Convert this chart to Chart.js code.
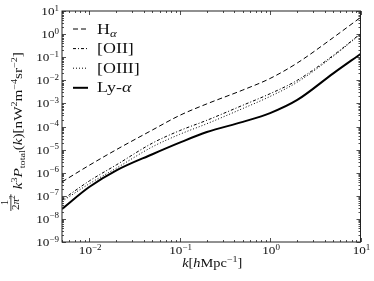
<!DOCTYPE html>
<html lang="en">
<head>
<meta charset="UTF-8">
<title>Line intensity power spectra</title>
<script src="https://cdn.jsdelivr.net/npm/chart.js"></script>
<style>
    * { margin: 0; padding: 0; box-sizing: border-box; }
    body { background: #ffffff; }
    .chart-container { width: 374px; height: 281px; position: relative; }
</style>
</head>
<body>
<div class="chart-container"><canvas id="spectraChart"></canvas></div>
<script>
// wavenumber k [h/Mpc]
const kValues = [0.005, 0.01, 0.02, 0.05, 0.1, 0.2, 0.5, 1, 2, 5, 10];

// k^3 P_total(k) / 2pi^2  [nW^2 m^-4 sr^-2]
const hAlpha  = [4.0e-7, 2.09e-6, 1.0e-5, 7.08e-5, 3.02e-4, 9.55e-4, 3.80e-3, 1.20e-2, 5.62e-2, 0.708, 5.25];
const oII     = [6.61e-8, 4.37e-7, 2.19e-6, 1.91e-5, 6.61e-5, 1.86e-4, 8.32e-4, 2.63e-3, 1.0e-2, 0.120, 1.05];
const oIII    = [5.75e-8, 3.31e-7, 1.58e-6, 1.32e-5, 4.57e-5, 1.32e-4, 6.03e-4, 2.0e-3, 8.32e-3, 0.110, 1.0];
const lyAlpha = [2.69e-8, 2.40e-7, 1.26e-6, 6.31e-6, 2.0e-5, 5.75e-5, 1.58e-4, 3.80e-4, 1.41e-3, 2.0e-2, 0.138];

const seriesLabels = ['Hα', '[OII]', '[OIII]', 'Ly-α'];

// tick labels are 10^n
const xTickExponents = [-2, -1, 0, 1];
const yTickExponents = [1, 0, -1, -2, -3, -4, -5, -6, -7, -8, -9];

const SERIF = '"Liberation Serif", "DejaVu Serif", serif';

function fontOf(r) {
    return (r.italic ? 'italic ' : '') + r.size + 'px ' + SERIF;
}

function runsWidth(ctx, runs) {
    let w = 0;
    runs.forEach(r => { ctx.font = fontOf(r); w += ctx.measureText(r.t).width; });
    return w;
}

// draws a row of text pieces (for super/subscripts), stretched by sx
function drawRuns(ctx, runs, x, y, align, sx) {
    const w = runsWidth(ctx, runs) * sx;
    let x0 = x;
    if (align === 'right') x0 = x - w;
    if (align === 'center') x0 = x - w / 2;
    ctx.save();
    ctx.translate(x0, y);
    ctx.scale(sx, 1);
    ctx.textAlign = 'left';
    ctx.textBaseline = 'alphabetic';
    let cx = 0;
    runs.forEach(r => {
        ctx.font = fontOf(r);
        ctx.fillText(r.t, cx, r.dy || 0);
        cx += ctx.measureText(r.t).width;
    });
    ctx.restore();
    return w;
}

function powerRuns(e) {
    return [
        { t: '10', size: 11 },
        { t: e < 0 ? '\u2212' + (-e) : String(e), size: 7.5, dy: -4.5 }
    ];
}

function legendRuns(label) {
    const runs = [];
    let prev = '';
    for (const ch of label) {
        if (ch === 'α') {
            const sub = prev === 'H';
            runs.push({ t: 'α', size: sub ? 10 : 14, italic: true, dy: sub ? 3 : 0 });
        } else if (runs.length && !runs[runs.length - 1].italic) {
            runs[runs.length - 1].t += ch;
        } else {
            runs.push({ t: ch, size: 14 });
        }
        prev = ch;
    }
    return runs;
}

const xTitleRuns = [
    { t: 'k', size: 11.5, italic: true },
    { t: '[', size: 11.5 },
    { t: 'h', size: 11.5, italic: true },
    { t: 'Mpc', size: 11.5 },
    { t: '\u22121', size: 8, dy: -5 },
    { t: ']', size: 11.5 }
];

const yTitleRuns = [
    { t: 'k', size: 12, italic: true },
    { t: '3', size: 8, dy: -5 },
    { t: 'P', size: 12, italic: true },
    { t: 'total', size: 8, dy: 2.5 },
    { t: '(', size: 12 },
    { t: 'k', size: 12, italic: true },
    { t: ')[nW', size: 12 },
    { t: '2', size: 8, dy: -5 },
    { t: 'm', size: 12 },
    { t: '\u22124', size: 8, dy: -5 },
    { t: 'sr', size: 12 },
    { t: '\u22122', size: 8, dy: -5 },
    { t: ']', size: 12 }
];

const styles = [
    { borderDash: [5, 3], borderWidth: 1 },
    { borderDash: [3, 2, 1, 2], borderWidth: 1 },
    { borderDash: [1, 2], borderWidth: 1 },
    { borderDash: [], borderWidth: 2 }
];

const seriesData = [hAlpha, oII, oIII, lyAlpha];

const datasets = seriesData.map((vals, i) => ({
    label: seriesLabels[i],
    data: kValues.map((k, j) => ({ x: k, y: vals[j] })),
    borderColor: '#000000',
    borderWidth: styles[i].borderWidth,
    borderDash: styles[i].borderDash,
    pointRadius: 0,
    fill: false,
    cubicInterpolationMode: 'monotone'
}));

const decorPlugin = {
    id: 'decor',
    afterDraw(chart) {
        const ctx = chart.ctx;
        const { left, right, top, bottom } = chart.chartArea;
        const xs = chart.scales.x;
        const ys = chart.scales.y;
        ctx.save();

        // frame
        ctx.strokeStyle = '#222222';
        ctx.lineWidth = 1;
        ctx.setLineDash([]);
        ctx.strokeRect(left, top, right - left, bottom - top);

        // inward ticks on all four sides
        ctx.lineWidth = 0.8;
        ctx.beginPath();
        for (let e = -3; e <= 1; e++) {
            for (let m = 1; m <= 9; m++) {
                const v = m * Math.pow(10, e);
                if (v < xs.min || v > xs.max) continue;
                const px = Math.round(xs.getPixelForValue(v)) + 0.5;
                const len = m === 1 ? 4 : 2;
                ctx.moveTo(px, bottom); ctx.lineTo(px, bottom - len);
                ctx.moveTo(px, top); ctx.lineTo(px, top + len);
            }
        }
        for (let e = -9; e <= 1; e++) {
            for (let m = 1; m <= 9; m++) {
                const v = m * Math.pow(10, e);
                if (v < ys.min * 0.999 || v > ys.max * 1.001) continue;
                const py = Math.round(ys.getPixelForValue(v)) + 0.5;
                const len = m === 1 ? 4 : 2;
                ctx.moveTo(left, py); ctx.lineTo(left + len, py);
                ctx.moveTo(right, py); ctx.lineTo(right - len, py);
            }
        }
        ctx.stroke();

        ctx.fillStyle = '#111111';

        // tick labels
        xTickExponents.forEach(e => {
            const px = xs.getPixelForValue(Math.pow(10, e));
            drawRuns(ctx, powerRuns(e), px + 1, bottom + 12, 'center', 1.2);
        });
        yTickExponents.forEach(e => {
            const py = ys.getPixelForValue(Math.pow(10, e));
            drawRuns(ctx, powerRuns(e), 59, py + 4, 'right', 1.2);
        });

        // x title
        drawRuns(ctx, xTitleRuns, (left + right) / 2 + 1, 267, 'center', 1.25);

        // y title, rotated
        ctx.save();
        ctx.translate(22, 210);
        ctx.rotate(-Math.PI / 2);
        const den = [
            { t: '2', size: 11 },
            { t: 'π', size: 11, italic: true },
            { t: '2', size: 7.5, dy: -4 }
        ];
        const num = [{ t: '1', size: 11 }];
        const fw = runsWidth(ctx, den);
        drawRuns(ctx, num, fw / 2, -14, 'center', 1);
        drawRuns(ctx, den, fw / 2, -3.5, 'center', 1);
        ctx.fillRect(-1, -11.5, fw + 2, 0.8);
        const mainLen = 137;
        drawRuns(ctx, yTitleRuns, fw + 6, 0, 'left', mainLen / runsWidth(ctx, yTitleRuns));
        ctx.restore();

        // legend
        chart.data.datasets.forEach((ds, i) => {
            const y = 29 + i * 19.6;
            ctx.strokeStyle = '#000000';
            ctx.lineWidth = ds.borderWidth;
            ctx.setLineDash(ds.borderDash);
            ctx.beginPath();
            ctx.moveTo(73, y);
            ctx.lineTo(88, y);
            ctx.stroke();
            ctx.setLineDash([]);
            drawRuns(ctx, legendRuns(ds.label), 97, y + 4.5, 'left', 1.28);
        });

        ctx.restore();
    }
};

new Chart(document.getElementById('spectraChart').getContext('2d'), {
    type: 'line',
    data: { datasets: datasets },
    options: {
        responsive: true,
        maintainAspectRatio: false,
        animation: false,
        layout: { padding: { left: 0, right: 13.5, top: 11, bottom: 0 } },
        scales: {
            x: {
                type: 'logarithmic',
                min: 0.005,
                max: 10,
                grid: { display: false },
                border: { display: false },
                ticks: { display: false },
                afterFit(scale) { scale.height = 39; }
            },
            y: {
                type: 'logarithmic',
                min: 1e-9,
                max: 10,
                grid: { display: false },
                border: { display: false },
                ticks: { display: false },
                afterFit(scale) { scale.width = 62; }
            }
        },
        plugins: {
            legend: { display: false },
            tooltip: { enabled: false }
        }
    },
    plugins: [decorPlugin]
});
</script>
</body>
</html>
